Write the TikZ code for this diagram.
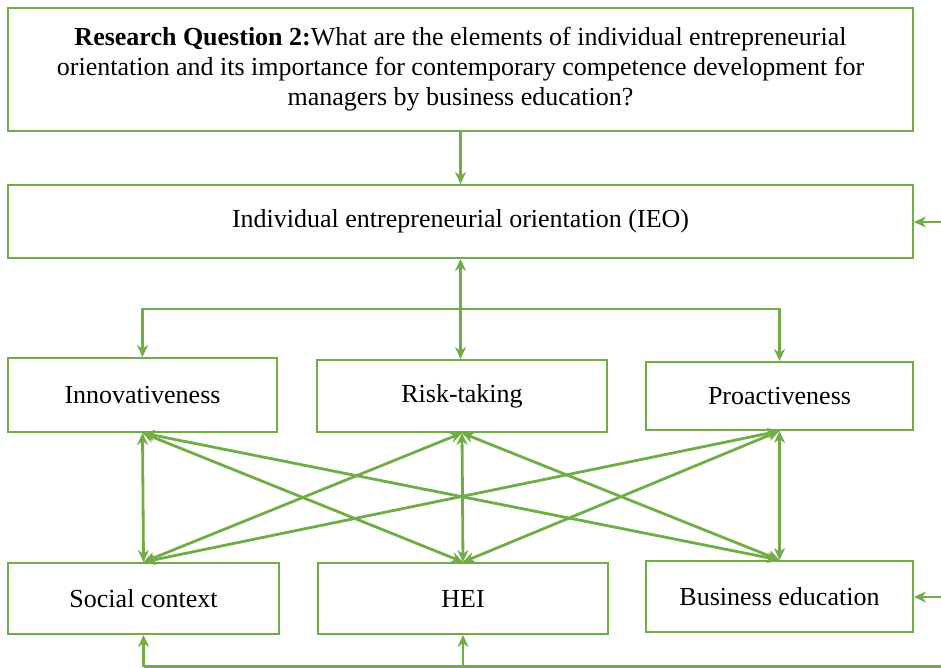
\documentclass[tikz,border=0pt]{standalone}
\usepackage{fontspec}
\setmainfont{Liberation Serif}
\usetikzlibrary{arrows.meta,calc}
\definecolor{ogreen}{RGB}{112,173,71}
\begin{document}
\begin{tikzpicture}[x=1pt,y=-1pt,
  box/.style={draw=ogreen,line width=2pt,rectangle,inner sep=0pt,
    font=\fontsize{26}{30}\selectfont,align=center},
  conn/.style={draw=ogreen,line width=2.8pt},
  tip/.style={-{Stealth[length=12pt,width=11pt]}},
  dtip/.style={{Stealth[length=12pt,width=11pt]}-{Stealth[length=12pt,width=11pt]}}
]
\useasboundingbox (0,0) rectangle (941,668);
\node[box,minimum width=905pt,minimum height=123pt] (rq) at (460.5,69.5)
  {\textbf{Research Question 2:}What are the elements of individual entrepreneurial\\
   orientation and its importance for contemporary competence development for\\
   managers by business education?};
\node[box,minimum width=905pt,minimum height=73pt] (ieo) at (460.5,221.5)
  {Individual entrepreneurial orientation (IEO)};
\node[box,minimum width=269pt,minimum height=74pt] (inn) at (142.5,395) {Innovativeness};
\node[box,minimum width=290pt,minimum height=72pt] (risk) at (462,396) {Risk-taking};
\node[box,minimum width=267pt,minimum height=68pt] (pro) at (779.5,396) {Proactiveness};
\node[box,minimum width=271pt,minimum height=71pt] (soc) at (143.5,598.5) {Social context};
\node[box,minimum width=290pt,minimum height=71pt] (hei) at (463,598.5) {HEI};
\node[box,minimum width=267pt,minimum height=71pt] (bus) at (779.5,596.5) {Business education};

\coordinate (j) at (460.5,309);
\coordinate (rin1) at (941,222);
\coordinate (rin2) at (941,597);
\coordinate (bR) at (941,666.5);

% top
\draw[conn,tip] (rq.south) -- (ieo.north);
\draw[conn,tip] (rin1) -- (rin1 -| ieo.east);
\draw[conn,tip] (rin2) -- (rin2 -| bus.east);
% IEO branches
\draw[conn,dtip] (ieo.south) -- (ieo.south |- risk.north);
\draw[conn,tip] (j) -| (inn.north);
\draw[conn,tip] (j) -| (pro.north);
% network
\foreach \a in {inn,risk,pro}{
  \foreach \b in {soc,hei,bus}{
    \draw[conn,dtip] (\a.south) -- (\b.north);
  }
}
% bottom
\draw[conn] (bR) -- (soc.south |- bR);
\draw[conn,tip] (soc.south |- bR) -- (soc.south);
\draw[conn,tip] (hei.south |- bR) -- (hei.south);
\end{tikzpicture}
\end{document}
